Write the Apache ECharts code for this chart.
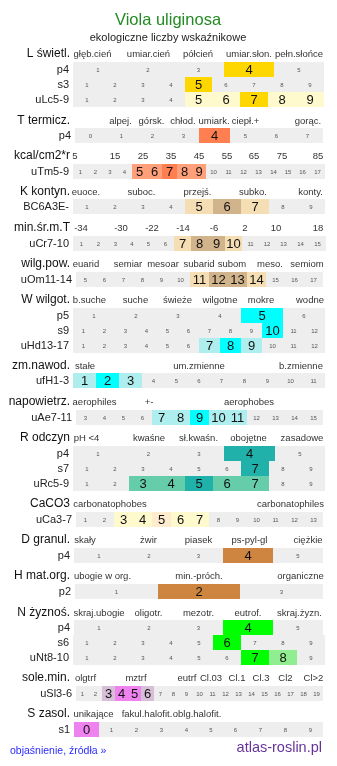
<!DOCTYPE html>
<html>
<head>
<meta charset="utf-8">
<script src="https://cdn.jsdelivr.net/npm/echarts@6/dist/echarts.min.js"></script>
<style>
  html, body { margin: 0; padding: 0; background: #fff; }
  #chart { width: 337px; height: 766px; }
</style>
</head>
<body>
<div id="chart"></div>
<script>
// sekcje (tytuł + opisy skali)
const sectionTitles = ['L świetl.', 'T termicz.', 'kcal/cm2*r', 'K kontyn.', 'min.śr.m.T', 'wilg.pow.',
  'W wilgot.', 'zm.nawod.', 'napowietrz.', 'R odczyn', 'CaCO3', 'D granul.', 'H mat.org.',
  'N żyznoś.', 'sole.min.', 'S zasol.'];
const sectionScales = [
  ['głęb.cień', 'umiar.cień', 'półcień', 'umiar.słon.', 'pełn.słońce'],
  ['alpej.', 'górsk.', 'chłod.', 'umiark.', 'ciepł.+', 'gorąc.'],
  ['5', '15', '25', '35', '45', '55', '65', '75', '85'],
  ['euoce.', 'suboc.', 'przejś.', 'subko.', 'konty.'],
  ['-34', '-30', '-22', '-14', '-6', '2', '10', '18'],
  ['euarid', 'semiar', 'mesoar', 'subarid', 'subom', 'meso.', 'semiom'],
  ['b.suche', 'suche', 'świeże', 'wilgotne', 'mokre', 'wodne'],
  ['stałe', 'um.zmienne', 'b.zmienne'],
  ['aerophiles', '+-', 'aerophobes'],
  ['pH <4', 'kwaśne', 'sł.kwaśn.', 'obojętne', 'zasadowe'],
  ['carbonatophobes', 'carbonatophiles'],
  ['skały', 'żwir', 'piasek', 'ps-pyl-gl', 'ciężkie'],
  ['ubogie w org.', 'min.-próch.', 'organiczne'],
  ['skraj.ubogie', 'oligotr.', 'mezotr.', 'eutrof.', 'skraj.żyzn.'],
  ['olgtrf', 'mztrf', 'eutrf', 'Cl.03', 'Cl.1', 'Cl.3', 'Cl2', 'Cl>2'],
  ['unikające', 'fakul.halofit.', 'oblg.halofit.']
];

// wiersze
const rowSection = [0, 0, 0, 1, 2, 3, 4, 5, 6, 6, 6, 7, 8, 9, 9, 9, 10, 11, 12, 13, 13, 13, 14, 15];
const rowLabels = ['p4', 's3', 'uLc5-9', 'p4', 'uTm5-9', 'BC6A3E-', 'uCr7-10', 'uOm11-14', 'p5', 's9',
  'uHd13-17', 'ufH1-3', 'uAe7-11', 'p4', 's7', 'uRc5-9', 'uCa3-7', 'p4', 'p2', 'p4', 's6', 'uNt8-10',
  'uSl3-6', 's1'];
const rowCategories = [
  [1, 2, 3, 4, 5],
  [1, 2, 3, 4, 5, 6, 7, 8, 9],
  [1, 2, 3, 4, 5, 6, 7, 8, 9],
  [0, 1, 2, 3, 4, 5, 6, 7],
  [1, 2, 3, 4, 5, 6, 7, 8, 9, 10, 11, 12, 13, 14, 15, 16, 17],
  [1, 2, 3, 4, 5, 6, 7, 8, 9],
  [1, 2, 3, 4, 5, 6, 7, 8, 9, 10, 11, 12, 13, 14, 15],
  [5, 6, 7, 8, 9, 10, 11, 12, 13, 14, 15, 16, 17],
  [1, 2, 3, 4, 5, 6],
  [1, 2, 3, 4, 5, 6, 7, 8, 9, 10, 11, 12],
  [1, 2, 3, 4, 5, 6, 7, 8, 9, 10, 11, 12],
  [1, 2, 3, 4, 5, 6, 7, 8, 9, 10, 11],
  [3, 4, 5, 6, 7, 8, 9, 10, 11, 12, 13, 14, 15],
  [1, 2, 3, 4, 5],
  [1, 2, 3, 4, 5, 6, 7, 8, 9],
  [1, 2, 3, 4, 5, 6, 7, 8, 9],
  [1, 2, 3, 4, 5, 6, 7, 8, 9, 10, 11, 12, 13],
  [1, 2, 3, 4, 5],
  [1, 2, 3],
  [1, 2, 3, 4, 5],
  [1, 2, 3, 4, 5, 6, 7, 8, 9],
  [1, 2, 3, 4, 5, 6, 7, 8, 9],
  [1, 2, 3, 4, 5, 6, 7, 8, 9, 10, 11, 12, 13, 14, 15, 16, 17, 18, 19],
  [0, 1, 2, 3, 4, 5, 6, 7, 8, 9]
];
// 0 = brak, 1 = zakres, 2 = wartość główna
const rowLevels = [
  [0, 0, 0, 2, 0],
  [0, 0, 0, 0, 2, 0, 0, 0, 0],
  [0, 0, 0, 0, 1, 1, 2, 1, 1],
  [0, 0, 0, 0, 2, 0, 0, 0],
  [0, 0, 0, 0, 1, 1, 2, 1, 1, 0, 0, 0, 0, 0, 0, 0, 0],
  [0, 0, 0, 0, 1, 2, 1, 0, 0],
  [0, 0, 0, 0, 0, 0, 1, 2, 2, 1, 0, 0, 0, 0, 0],
  [0, 0, 0, 0, 0, 0, 1, 2, 2, 1, 0, 0, 0],
  [0, 0, 0, 0, 2, 0],
  [0, 0, 0, 0, 0, 0, 0, 0, 0, 2, 0, 0],
  [0, 0, 0, 0, 0, 0, 1, 2, 1, 0, 0, 0],
  [1, 2, 1, 0, 0, 0, 0, 0, 0, 0, 0],
  [0, 0, 0, 0, 1, 1, 2, 1, 1, 0, 0, 0, 0],
  [0, 0, 0, 2, 0],
  [0, 0, 0, 0, 0, 0, 2, 0, 0],
  [0, 0, 1, 1, 2, 1, 1, 0, 0],
  [0, 0, 1, 1, 2, 1, 1, 0, 0, 0, 0, 0, 0],
  [0, 0, 0, 2, 0],
  [0, 2, 0],
  [0, 0, 0, 2, 0],
  [0, 0, 0, 0, 0, 2, 0, 0, 0],
  [0, 0, 0, 0, 0, 0, 2, 1, 0],
  [0, 0, 1, 2, 2, 1, 0, 0, 0, 0, 0, 0, 0, 0, 0, 0, 0, 0, 0],
  [2, 0, 0, 0, 0, 0, 0, 0, 0, 0]
];

// układ i style
const FONT = 'Liberation Sans, Arial, sans-serif';
const sectionY = [54, 121, 156, 192, 228, 264, 300, 366, 402, 438, 504, 540, 576, 613, 678, 714];
const scaleX = [
  [92.5, 148.5, 198, 249, 299],
  [120.5, 151.5, 183, 214, 245.5, 308],
  [75, 115, 143, 171, 199, 227, 254, 282, 318],
  [86, 141.5, 197.5, 253, 310.5],
  [81, 121, 152, 183, 214, 245, 276, 318],
  [86, 128, 163, 199, 232, 270, 307],
  [89.5, 135.5, 177.5, 220, 261, 310],
  [85, 199, 301],
  [94.5, 149, 249],
  [86.5, 149, 198.5, 248.5, 302],
  [110, 290.5],
  [85, 148.5, 198.5, 249.5, 308],
  [102.5, 199, 300.5],
  [99, 148.5, 198.5, 248, 299.5],
  [85.5, 136, 187, 211, 237, 261, 285.5, 313.5],
  [93.5, 147, 197]
];
const sectionWeak = ['#fffacd', '#ffa07a', '#ffa07a', '#f5deb3', '#f5deb3', '#f5deb3', '#afeeee', '#afeeee',
  '#afeeee', '#66cdaa', '#fffacd', '#cd853f', '#cd853f', '#90ee90', '#d8bfd8', '#ee82ee'];
const sectionStrong = ['#ffd700', '#ff7f50', '#ff7f50', '#d2b48c', '#d2b48c', '#d2b48c', '#00ffff', '#00ffff',
  '#00ffff', '#20b2aa', '#ffebcd', '#cd853f', '#cd853f', '#00ff00', '#ee82ee', '#ee82ee'];
const rowTop = [62, 77, 92, 128, 164, 199, 236, 272, 308, 323, 338, 373, 410, 446, 461, 476, 512, 548, 584,
  620, 635, 650, 686, 722];
const rowLeft = [73, 73, 73, 75, 73, 73, 73, 76, 73, 73, 73, 73, 76, 73, 73, 73, 76, 74, 75, 74, 73, 73, 76, 74];
const rowRight = [324, 324, 324, 323, 325, 325, 326, 323, 325, 325, 325, 325, 323, 325, 325, 325, 323, 323,
  323, 323, 325, 325, 323, 323];
const ROW_H = 15;
const GRAY = '#eeeeee';

const chart = echarts.init(document.getElementById('chart'));

function cellRenderer(r) {
  return function (params, api) {
    const j = params.dataIndex;
    const c = api.coord([api.value(0), 0]);
    const s = api.size([1, 1]);
    const x0 = Math.round(c[0] - s[0] / 2), x1 = Math.round(c[0] + s[0] / 2);
    const y0 = Math.round(c[1] - s[1] / 2), y1 = Math.round(c[1] + s[1] / 2);
    const lvl = rowLevels[r][j];
    const sec = rowSection[r];
    const fill = lvl === 2 ? sectionStrong[sec] : lvl === 1 ? sectionWeak[sec] : GRAY;
    const font = lvl ? '13px ' + FONT : '6px ' + FONT;
    return {
      type: 'group',
      children: [
        { type: 'rect', shape: { x: x0, y: y0, width: x1 - x0, height: y1 - y0 }, style: { fill: fill } },
        {
          type: 'text',
          style: {
            text: String(rowCategories[r][j]), x: (x0 + x1) / 2, y: (y0 + y1) / 2 + 0.5,
            align: 'center', verticalAlign: 'middle', textAlign: 'center', textVerticalAlign: 'middle',
            font: font, fill: lvl ? '#111' : '#555'
          }
        }
      ]
    };
  };
}

const grids = [], xAxes = [], yAxes = [], series = [];
rowLabels.forEach((label, r) => {
  grids.push({ left: rowLeft[r], top: rowTop[r], width: rowRight[r] - rowLeft[r], height: ROW_H });
  xAxes.push({ type: 'category', gridIndex: r, data: rowCategories[r].map(String), show: false });
  yAxes.push({
    type: 'category', gridIndex: r, data: [label],
    axisLine: { show: false }, axisTick: { show: false }, splitLine: { show: false },
    axisLabel: { fontSize: 11, color: '#222', margin: 4, fontFamily: FONT }
  });
  series.push({
    type: 'custom', xAxisIndex: r, yAxisIndex: r,
    data: rowCategories[r].map((v, j) => [j, 0]),
    renderItem: cellRenderer(r), silent: true
  });
});

function txt(text, x, y, size, color, align) {
  return {
    type: 'text', silent: true,
    style: {
      text: text, x: x, y: y, font: size + 'px ' + FONT, fill: color,
      align: align, verticalAlign: 'middle', textAlign: align, textVerticalAlign: 'middle'
    }
  };
}

const graphics = [];
graphics.push(txt('Viola uliginosa', 168, 20, 16.5, '#228b22', 'center'));
graphics.push(txt('ekologiczne liczby wskaźnikowe', 168, 38, 11, '#222', 'center'));
sectionTitles.forEach((t, i) => {
  graphics.push(txt(t, 70, sectionY[i], 12, '#111', 'right'));
  sectionScales[i].forEach((d, k) => {
    graphics.push(txt(d, scaleX[i][k], sectionY[i], 9.5, '#333', 'center'));
  });
});
graphics.push(txt('objaśnienie, źródła »', 10, 751, 10.5, '#2b2bff', 'left'));
graphics.push(txt('atlas-roslin.pl', 322, 748, 14.5, '#663399', 'right'));

chart.setOption({
  animation: false,
  grid: grids,
  xAxis: xAxes,
  yAxis: yAxes,
  series: series,
  graphic: graphics
});
</script>
</body>
</html>
